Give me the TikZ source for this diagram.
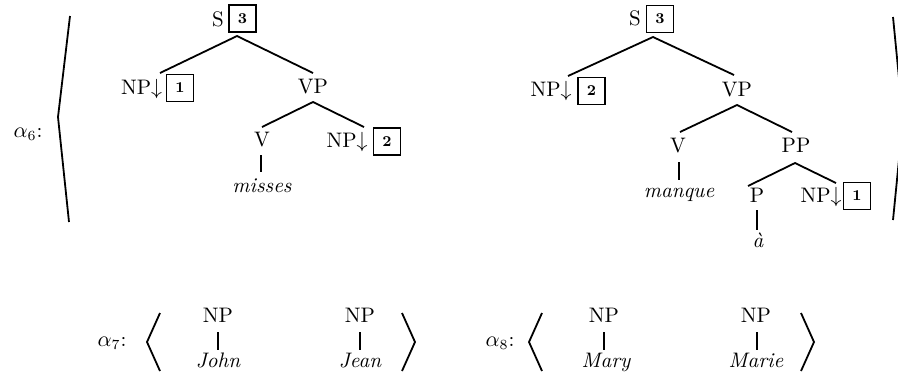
\documentclass[tikz,border=0pt]{standalone}
\begin{document}
\begin{tikzpicture}[x=0.5pt,y=-0.5pt,
  lab/.style={inner sep=0pt, anchor=base, font=\fontsize{10.5}{12}\selectfont},
  wrd/.style={inner sep=0pt, anchor=base, font=\fontsize{10.5}{12}\selectfont\itshape},
  numbox/.style={draw, line width=0.75pt, minimum size=13.5pt, inner sep=0pt, font=\fontsize{7.5}{8}\selectfont\bfseries},
  branch/.style={line width=0.9pt},
  brk/.style={line width=0.9pt, line join=miter}]
\path[use as bounding box, clip] (0,0) rectangle (898,377);

% ---------- alpha 6 ----------
\node[lab] (a6) at (28,137) {$\alpha_6$:};
\coordinate (lb6t) at (70,16);
\coordinate (lb6m) at (58,117);
\coordinate (lb6b) at (69,222);
\draw[brk] (lb6t) -- (lb6m) -- (lb6b);
\coordinate (rb6t) at (893,17);
\coordinate (rb6m) at (903,119);
\coordinate (rb6b) at (893,220);
\draw[brk] (rb6t) -- (rb6m) -- (rb6b);

% left tree
\node[lab] (s1) at (218,26) {S};
\node[numbox] (b13) at (242.5,18.5) {3};
\node[lab] (np11) at (141.5,94) {NP$\downarrow$};
\node[numbox] (b11) at (180,88) {1};
\node[lab] (vp1) at (313,93) {VP};
\node[lab] (v1) at (262,146) {V};
\node[lab] (np12) at (347,147) {NP$\downarrow$};
\node[numbox] (b12) at (387,141.5) {2};
\node[wrd] (w1) at (262,192) {misses};

\coordinate (s1a) at (237,36);
\coordinate (np11t) at (160,73);
\coordinate (vp1t) at (313,73);
\coordinate (vp1a) at (313,102);
\coordinate (v1t) at (262,127);
\coordinate (np12t) at (364,127);
\coordinate (v1a) at (261,155);
\coordinate (w1t) at (261,172);
\draw[branch] (np11t) -- (s1a) -- (vp1t);
\draw[branch] (v1t) -- (vp1a) -- (np12t);
\draw[branch] (v1a) -- (w1t);

% right tree
\node[lab] (s2) at (635,25) {S};
\node[numbox] (b23) at (660,19) {3};
\node[lab] (np21) at (551,96) {NP$\downarrow$};
\node[numbox] (b22) at (591.5,91) {2};
\node[lab] (vp2) at (737,96) {VP};
\node[lab] (v2) at (678,152) {V};
\node[lab] (pp2) at (796,152) {PP};
\node[wrd] (w2) at (679,197) {manque};
\node[lab] (p2) at (757,202) {P};
\node[lab] (np22) at (821,202) {NP$\downarrow$};
\node[numbox] (b21) at (857,196) {1};
\node[wrd] (w3) at (758,247) {à};

\coordinate (s2a) at (653,37);
\coordinate (np21t) at (568,76);
\coordinate (vp2t) at (734,75);
\coordinate (vp2a) at (737,105);
\coordinate (v2t) at (680,132);
\coordinate (pp2t) at (792,132);
\coordinate (v2a) at (679,162);
\coordinate (w2t) at (679,180);
\coordinate (pp2a) at (795,163);
\coordinate (p2t) at (748,186);
\coordinate (np22t) at (836,183);
\coordinate (p2a) at (757,210);
\coordinate (w3t) at (757,230);
\draw[branch] (np21t) -- (s2a) -- (vp2t);
\draw[branch] (v2t) -- (vp2a) -- (pp2t);
\draw[branch] (v2a) -- (w2t);
\draw[branch] (p2t) -- (pp2a) -- (np22t);
\draw[branch] (p2a) -- (w3t);

% ---------- alpha 7 ----------
\node[lab] (a7) at (112,346) {$\alpha_7$:};
\coordinate (lb7t) at (160,313);
\coordinate (lb7m) at (147,342);
\coordinate (lb7b) at (160,371);
\draw[brk] (lb7t) -- (lb7m) -- (lb7b);
\node[lab] (np7a) at (218,322) {NP};
\node[wrd] (w7a) at (218,367) {John};
\node[lab] (np7b) at (360,322) {NP};
\node[wrd] (w7b) at (360,367) {Jean};
\draw[branch] (218,332) coordinate (np7ab) -- (218,350) coordinate (w7at);
\draw[branch] (360,332) coordinate (np7bb) -- (360,350) coordinate (w7bt);
\coordinate (rb7t) at (402,313);
\coordinate (rb7m) at (415,342);
\coordinate (rb7b) at (402,371);
\draw[brk] (rb7t) -- (rb7m) -- (rb7b);

% ---------- alpha 8 ----------
\node[lab] (a8) at (500,346) {$\alpha_8$:};
\coordinate (lb8t) at (542,313);
\coordinate (lb8m) at (529,342);
\coordinate (lb8b) at (542,371);
\draw[brk] (lb8t) -- (lb8m) -- (lb8b);
\node[lab] (np8a) at (604,322) {NP};
\node[wrd] (w8a) at (606,367) {Mary};
\node[lab] (np8b) at (756,322) {NP};
\node[wrd] (w8b) at (756,367) {Marie};
\draw[branch] (604,332) coordinate (np8ab) -- (604,350) coordinate (w8at);
\draw[branch] (757,332) coordinate (np8bb) -- (757,350) coordinate (w8bt);
\coordinate (rb8t) at (801,313);
\coordinate (rb8m) at (814,342);
\coordinate (rb8b) at (801,371);
\draw[brk] (rb8t) -- (rb8m) -- (rb8b);
\end{tikzpicture}
\end{document}
